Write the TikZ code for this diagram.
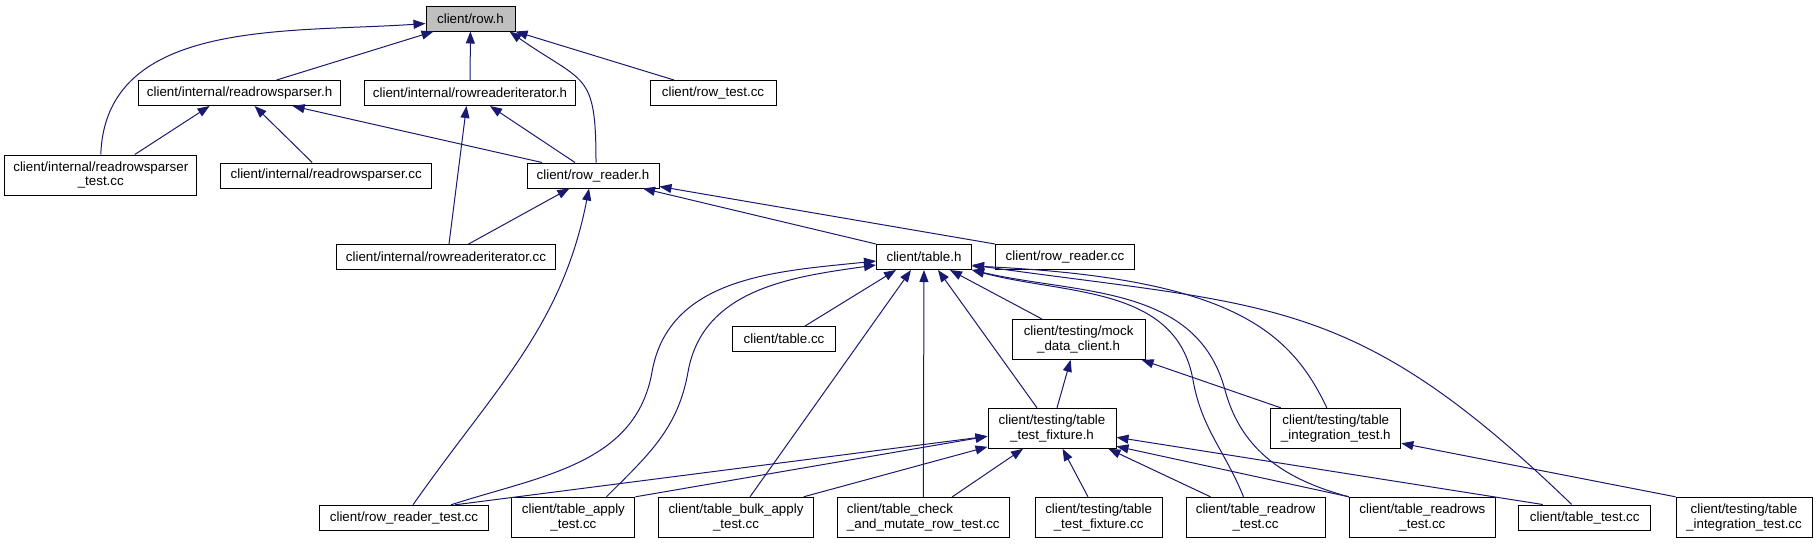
\documentclass[tikz,border=0pt]{standalone}
\usepackage{fontspec}
\setmainfont{Liberation Sans}
\usepackage{tikz}
\usetikzlibrary{arrows.meta,calc}
\definecolor{edgeblue}{HTML}{191970}
\definecolor{mainfill}{HTML}{BFBFBF}
\tikzstyle{filenode}=[rectangle,draw=black,fill=white,line width=1pt,
  minimum height=25,inner xsep=2pt,inner ysep=2pt,align=center,
  font=\fontsize{13.33}{14.5}\selectfont]
\tikzstyle{mainnode}=[filenode,fill=mainfill]
\tikzstyle{twoline}=[filenode,minimum height=40]
\tikzstyle{dep}=[-{Triangle[length=12pt,width=9pt]},line width=1pt,color=edgeblue]
\begin{document}
\begin{tikzpicture}[x=1pt,y=-1pt]
  \useasboundingbox (0,0) rectangle (1817,544);
  \node[mainnode,minimum width=89] (rowh) at (470.5,18.5) {client/row.h};
  \node[filenode,minimum width=202] (rrph) at (239.6,93) {client/internal/readrowsparser.h};
  \node[filenode,minimum width=211] (rrih) at (470,93) {client/internal/rowreaderiterator.h};
  \node[filenode,minimum width=126] (rowtest) at (713,93) {client/row\_test.cc};
  \node[twoline,minimum width=192] (rrptest) at (100.8,175) {client/internal/readrowsparser\\\_test.cc};
  \node[filenode,minimum width=211] (rrpcc) at (326.2,175.5) {client/internal/readrowsparser.cc};
  \node[filenode,minimum width=132] (rrh) at (593,175.5) {client/row\_reader.h};
  \node[filenode,minimum width=219] (rricc) at (446,257) {client/internal/rowreaderiterator.cc};
  \node[filenode,minimum width=95] (tableh) at (924,257) {client/table.h};
  \node[filenode,minimum width=139] (rrcc) at (1065,257) {client/row\_reader.cc};
  \node[filenode,minimum width=103] (tablecc) at (784,339) {client/table.cc};
  \node[twoline,minimum width=133] (mockh) at (1078.6,339.3) {client/testing/mock\\\_data\_client.h};
  \node[twoline,minimum width=128] (ttfh) at (1052,428.3) {client/testing/table\\\_test\_fixture.h};
  \node[twoline,minimum width=130] (tith) at (1335.8,428.3) {client/testing/table\\\_integration\_test.h};
  \node[filenode,minimum width=169] (rrtest) at (404,517.8) {client/row\_reader\_test.cc};
  \node[twoline,minimum width=123] (applytest) at (573.4,517.3) {client/table\_apply\\\_test.cc};
  \node[twoline,minimum width=155] (bulktest) at (736,517.3) {client/table\_bulk\_apply\\\_test.cc};
  \node[twoline,minimum width=172,align=left] (checktest) at (923.3,517.3) {client/table\_check\\\_and\_mutate\_row\_test.cc};
  \node[twoline,minimum width=127] (ttfcc) at (1098.6,517.3) {client/testing/table\\\_test\_fixture.cc};
  \node[twoline,minimum width=139] (readrowtest) at (1255.5,517.3) {client/table\_readrow\\\_test.cc};
  \node[twoline,minimum width=146] (readrowstest) at (1422.4,517.3) {client/table\_readrows\\\_test.cc};
  \node[filenode,minimum width=132] (tabletest) at (1584.7,517.5) {client/table\_test.cc};
  \node[twoline,minimum width=136] (titcc) at (1744,517.3) {client/testing/table\\\_integration\_test.cc};

  \draw[dep] (rrptest.north) to[out=88,in=-176] ($(rowh.west)+(0,5)$);
  \draw[dep] ($(rrph.north)+(37,0)$) -- ($(rowh.south)+(-37,0)$);
  \draw[dep] (rrih) -- (rowh);
  \draw[dep] ($(rrh.north)+(3,0)$) to[out=90,in=-35,looseness=1.5] ($(rowh.south east)+(-6,0)$);
  \draw[dep] ($(rowtest.north)+(-39,0)$) -- (rowh.south east);

  \draw[dep] ($(rrptest.north)+(34,0)$) -- ($(rrph.south)+(-30,0)$);
  \draw[dep] ($(rrpcc.north)+(-14,0)$) -- ($(rrph.south)+(15,0)$);
  \draw[dep] ($(rrh.north)+(-51,0)$) -- ($(rrph.south)+(53,0)$);
  \draw[dep] ($(rricc.north)+(3,0)$) -- ($(rrih.south)+(-3.5,0)$);
  \draw[dep] ($(rrh.north)+(-18,0)$) -- ($(rrih.south)+(20,0)$);

  \draw[dep] ($(rricc.north)+(22.6,0)$) -- ($(rrh.south)+(-23.6,0)$);
  \draw[dep] ($(rrtest.north)+(9,0)$) to[out=55,in=-101] ($(rrh.south)+(-4,0)$);
  \draw[dep] (tableh.north west) -- ($(rrh.south)+(50,0)$);
  \draw[dep] (rrcc.north west) -- ($(rrh.south east)+(0,-2)$);

  \draw[dep] ($(rrtest.north)+(47,0)$) to[out=18,in=-100] (652,372) to[out=80,in=186] ($(tableh.west)+(0,4)$);
  \draw[dep] ($(applytest.north)+(33,0)$) to[out=45,in=-100] (688,372) to[out=80,in=188] ($(tableh.west)+(0,8)$);
  \draw[dep] ($(tablecc.north)+(21,0)$) -- ($(tableh.south)+(-28,0)$);
  \draw[dep] ($(bulktest.north)+(14,0)$) -- ($(tableh.south)+(-13,0)$);
  \draw[dep] (checktest) -- (tableh);
  \draw[dep] ($(ttfh.north)+(-15,0)$) -- ($(tableh.south)+(14,0)$);
  \draw[dep] ($(mockh.north)+(-37,0)$) -- ($(tableh.south)+(26,0)$);
  \draw[dep] ($(readrowtest.north)+(-12,0)$) to[out=112,in=-80] (1193,380) to[out=100,in=-15] (tableh.south east);
  \draw[dep] (readrowstest.north west) to[out=165,in=-75] (1225,390) to[out=105,in=-13] (tableh.south east);
  \draw[dep] ($(tith.north)+(-9,0)$) .. controls (1290,330) and (1230,278) .. ($(tableh.east)+(0,9)$);
  \draw[dep] ($(tabletest.north)+(-13,0)$) to[out=136,in=-8,looseness=1.2] ($(tableh.east)+(0,8)$);

  \draw[dep] ($(ttfh.north)+(5,0)$) -- ($(mockh.south)+(-8,0)$);
  \draw[dep] ($(tith.north)+(-55,0)$) -- ($(mockh.south east)+(-4,0)$);

  \draw[dep] ($(rrtest.north)+(51,0)$) -- ($(ttfh.west)+(0,8)$);
  \draw[dep] (applytest.north east) -- ($(ttfh.west)+(0,8)$);
  \draw[dep] ($(bulktest.north)+(67.6,0)$) -- ($(ttfh.south west)+(0,-2)$);
  \draw[dep] ($(checktest.north)+(29,0)$) -- ($(ttfh.south)+(-29,0)$);
  \draw[dep] ($(ttfcc.north)+(-10.6,0)$) -- ($(ttfh.south)+(10.6,0)$);
  \draw[dep] ($(readrowtest.north)+(-45,0)$) -- ($(ttfh.south east)+(-8,0)$);
  \draw[dep] (readrowstest.north west) -- ($(ttfh.east)+(0,18)$);
  \draw[dep] ($(tabletest.north)+(-42,0)$) -- ($(ttfh.east)+(0,9)$);

  \draw[dep] (titcc.north west) -- ($(tith.east)+(0,15)$);
\end{tikzpicture}
\end{document}
